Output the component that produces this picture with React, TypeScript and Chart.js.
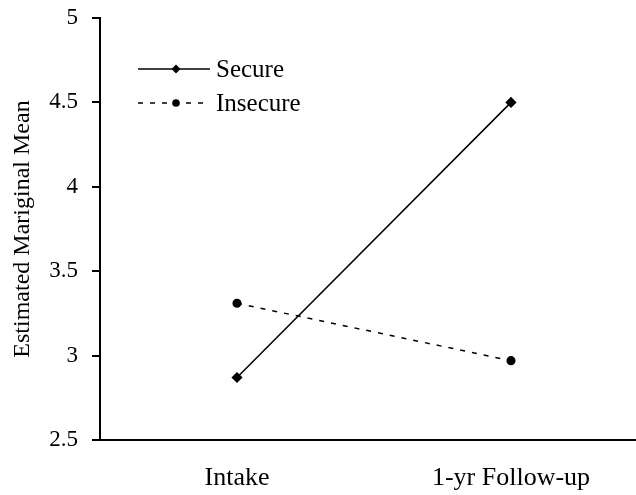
import React, { useEffect, useRef } from "react";
import { Chart, registerables } from "chart.js";

Chart.register(...registerables);

const categories = ["Intake", "1-yr Follow-up"];
const secureValues = [2.87, 4.5];
const insecureValues = [3.31, 2.97];
const yTicks = [2.5, 3, 3.5, 4, 4.5, 5];
const seriesNames = ["Secure", "Insecure"];
const yTitle = "Estimated Mariginal Mean";

const FONT = "'Liberation Serif', 'Times New Roman', serif";

const legendPlugin = {
  id: "insideLegend",
  afterDraw(chart: any) {
    const ctx = chart.ctx;
    const x0 = 138;
    const x1 = 210;
    const ys = [69, 103];
    chart.data.datasets.forEach((ds: any, i: number) => {
      const y = ys[i];
      ctx.save();
      ctx.strokeStyle = "#000";
      ctx.lineWidth = 1.5;
      ctx.setLineDash(ds.borderDash || []);
      ctx.beginPath();
      ctx.moveTo(x0, y);
      ctx.lineTo(x1, y);
      ctx.stroke();
      ctx.setLineDash([]);
      ctx.fillStyle = "#000";
      const cx = 176;
      if (ds.pointStyle === "rectRot") {
        ctx.beginPath();
        ctx.moveTo(cx, y - 4.5);
        ctx.lineTo(cx + 4.5, y);
        ctx.lineTo(cx, y + 4.5);
        ctx.lineTo(cx - 4.5, y);
        ctx.closePath();
        ctx.fill();
      } else {
        ctx.beginPath();
        ctx.arc(cx, y, 3.8, 0, Math.PI * 2);
        ctx.fill();
      }
      ctx.font = `25px ${FONT}`;
      ctx.textBaseline = "middle";
      ctx.textAlign = "left";
      ctx.fillText(ds.label, 216, y + 1);
      ctx.restore();
    });
  },
};

export default function App() {
  const ref = useRef<HTMLCanvasElement | null>(null);
  useEffect(() => {
    if (!ref.current) return;
    const chart = new Chart(ref.current, {
      type: "line",
      data: {
        labels: categories,
        datasets: [
          {
            label: seriesNames[0],
            data: secureValues,
            borderColor: "#000",
            backgroundColor: "#000",
            borderWidth: 1.5,
            pointStyle: "rectRot",
            pointRadius: 4.5,
            pointBackgroundColor: "#000",
            pointBorderColor: "#000",
            fill: false,
          },
          {
            label: seriesNames[1],
            data: insecureValues,
            borderColor: "#000",
            backgroundColor: "#000",
            borderWidth: 1.5,
            borderDash: [5, 7],
            pointStyle: "circle",
            pointRadius: 3.8,
            pointBackgroundColor: "#000",
            pointBorderColor: "#000",
            fill: false,
          },
        ],
      },
      options: {
        animation: false,
        responsive: false,
        maintainAspectRatio: false,
        layout: { padding: { top: 18, right: 0, bottom: 0, left: 0 } },
        plugins: {
          legend: { display: false },
          tooltip: { enabled: false },
        },
        scales: {
          x: {
            type: "category",
            offset: true,
            grid: { display: false },
            border: { display: true, color: "#000", width: 2 },
            ticks: {
              color: "#000",
              font: { family: FONT, size: 26 },
              padding: 15,
            },
            afterFit(scale: any) {
              scale.height = 55;
              scale.paddingLeft = 0;
              scale.paddingRight = 0;
            },
          },
          y: {
            min: 2.5,
            max: 5,
            afterBuildTicks(scale: any) {
              scale.ticks = yTicks.map((v) => ({ value: v }));
            },
            grid: {
              display: true,
              drawOnChartArea: false,
              drawTicks: true,
              tickLength: 8,
              color: "#000",
              lineWidth: 2,
            },
            border: { display: true, color: "#000", width: 2 },
            ticks: {
              color: "#000",
              font: { family: FONT, size: 23 },
              padding: 14,
              callback: (v: any) => String(v),
            },
            title: {
              display: true,
              text: yTitle,
              color: "#000",
              font: { family: FONT, size: 24 },
              padding: { top: 8, bottom: 4 },
            },
            afterFit(scale: any) {
              scale.width = 100;
              scale.paddingTop = 0;
              scale.paddingBottom = 0;
            },
          },
        },
      },
      plugins: [legendPlugin],
    });
    return () => chart.destroy();
  }, []);
  return (
    <div style={{ position: "fixed", left: 0, top: 0, width: 636, height: 495, overflow: "hidden", background: "#fff" }}>
      <canvas ref={ref} width={654} height={495} style={{ display: "block" }} />
    </div>
  );
}
